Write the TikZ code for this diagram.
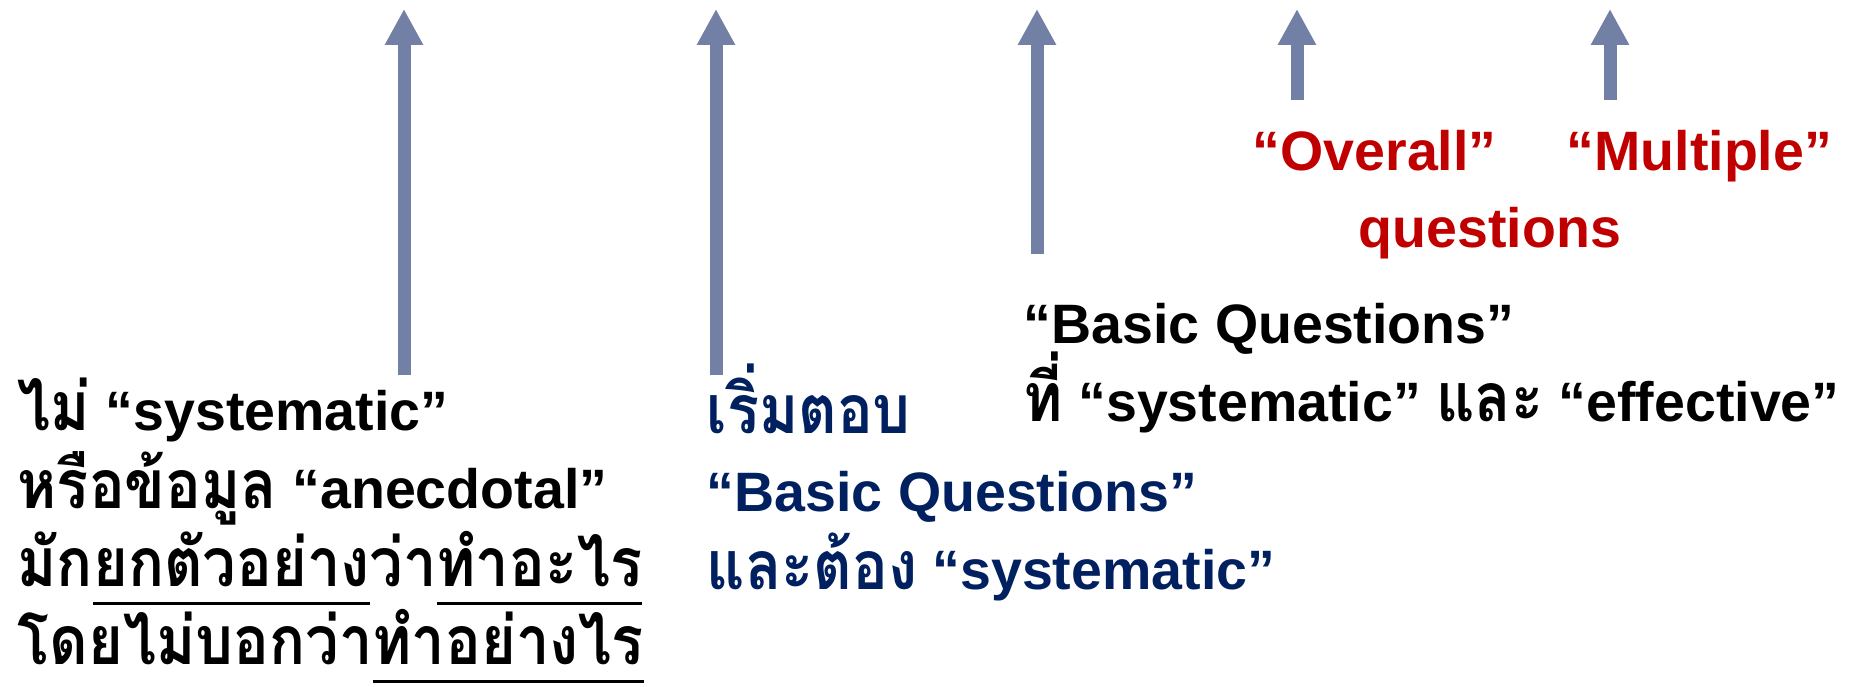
\documentclass[tikz,border=0pt]{standalone}
\usepackage{fontspec}
\setmainfont{Liberation Sans}
\newfontfamily\thaifont[Script=Thai, Scale=1.22, FakeStretch=0.88]{Loma}
\usepackage{xcolor}
\usepackage{tikz}
\usetikzlibrary{positioning, arrows.meta}
\definecolor{aSlate}{HTML}{7380A5}
\definecolor{tNavy}{HTML}{002060}
\definecolor{tRed}{HTML}{C00000}
\newcommand{\thtxt}[1]{{\thaifont #1}}
\newcommand{\thul}[1]{\setbox0\hbox{\thaifont #1}\rlap{\rule[-0.18cm]{\wd0}{0.03cm}}\box0}
\newcommand{\tightlines}{\lineskiplimit=-30pt\relax}
\tikzset{
  txt/.style={inner sep=0pt, align=left, anchor=base west,
    font=\fontsize{15.8pt}{22.2pt}\selectfont\bfseries\tightlines},
  blacktxt/.style={txt, text=black},
  navytxt/.style={txt, text=tNavy},
  redtxt/.style={txt, text=tRed},
  uparrow/.style={draw=aSlate, line width=0.13cm,
    -{Triangle[length=0.36cm, width=0.36cm, fill=aSlate]}},
}

\begin{document}
\begin{tikzpicture}
  \useasboundingbox (0,0) rectangle (18.52,6.87);
  % text blocks (base = last line)
  \node[blacktxt] (old) at (0.17,0.22)
    {\thtxt{ไม่} ``systematic''\\
     \thtxt{หรือข้อมูล} ``anecdotal''\\
     \thtxt{มัก}\thul{ยกตัวอย่าง}\thtxt{ว่า}\thul{ทำอะไร}\\
     \thtxt{โดยไม่บอกว่า}\thul{ทำอย่างไร}};
  \node[navytxt] (start) at (7.06,0.97)
    {\thtxt{เริ่มตอบ}\\
     ``Basic Questions''\\
     \thtxt{และต้อง} ``systematic''};
  \node[blacktxt] (basic) at (10.23,2.65)
    {``Basic Questions''\\
     \thtxt{ที่} ``systematic'' \thtxt{และ} ``effective''};
  \node[redtxt] (overall) at (12.52,5.16) {``Overall''};
  \node[redtxt] (multi) at (15.66,5.16) {``Multiple''};
  \node[redtxt, anchor=base] (quest) at (14.90,4.39) {questions};
  % arrows
  \coordinate (s1) at (4.04,3.12);  \coordinate (e1) at (4.04,6.78);
  \coordinate (s2) at (7.16,3.12);  \coordinate (e2) at (7.16,6.78);
  \coordinate (s3) at (10.37,4.33); \coordinate (e3) at (10.37,6.78);
  \coordinate (s4) at (12.97,5.87); \coordinate (e4) at (12.97,6.78);
  \coordinate (s5) at (16.10,5.87); \coordinate (e5) at (16.10,6.78);
  \draw[uparrow] (s1) -- (e1);
  \draw[uparrow] (s2) -- (e2);
  \draw[uparrow] (s3) -- (e3);
  \draw[uparrow] (s4) -- (e4);
  \draw[uparrow] (s5) -- (e5);
\end{tikzpicture}
\end{document}
